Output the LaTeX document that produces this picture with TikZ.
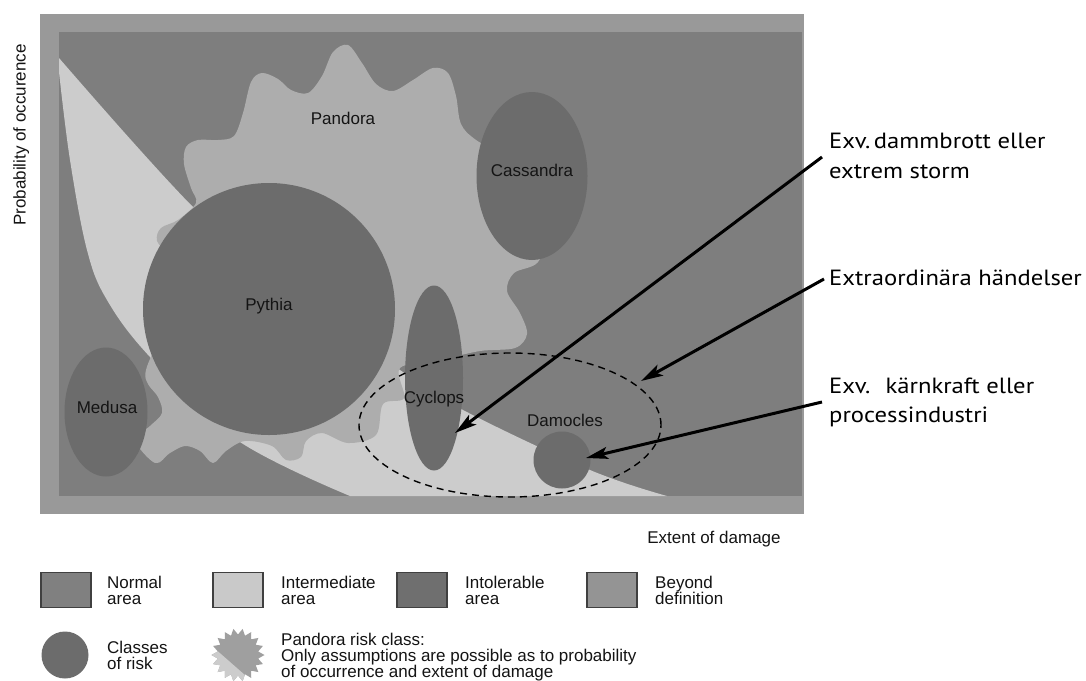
\documentclass[tikz,border=0pt]{standalone}
\usepackage{fontspec}
\setmainfont{Liberation Sans}
\newfontfamily\notefont[FakeStretch=1.12]{PT Sans}
\usetikzlibrary{arrows.meta,shapes.geometric}
\definecolor{framegray}{HTML}{999999}
\definecolor{normalgray}{HTML}{7E7E7E}
\definecolor{lightzone}{HTML}{CCCCCC}
\definecolor{pandoragray}{HTML}{ADADAD}
\definecolor{riskgray}{HTML}{6C6C6C}
\definecolor{legnormal}{HTML}{808080}
\definecolor{leginter}{HTML}{C9C9C9}
\definecolor{legintol}{HTML}{6F6F6F}
\definecolor{legbeyond}{HTML}{949494}
\begin{document}
\begin{tikzpicture}[x=1pt, y=-1pt,
  lbl/.style={font=\fontsize{17}{20}\selectfont, inner sep=0pt, anchor=base, text=black!92},
  leg/.style={font=\fontsize{17}{20}\selectfont, inner sep=0pt, anchor=base west, text=black!92},
  note/.style={font=\notefont\fontsize{22}{26}\selectfont, inner sep=0pt, anchor=base west},
  riskcls/.style={fill=riskgray, inner sep=0pt, outer sep=0pt},
  legbox/.style={draw=black!75, line width=1.3pt, minimum width=50pt, minimum height=35pt, inner sep=0pt},
  callout/.style={line width=3pt, -{Stealth[length=22pt, width=12pt, inset=5pt]}},
  eventring/.style={draw=black, line width=1.4pt, dash pattern=on 7pt off 5pt, ellipse, inner sep=0pt, minimum width=302pt, minimum height=144pt}]
\useasboundingbox (0,0) rectangle (1086,680);
\fill[white] (0,0) rectangle (1086,680);
% frame and areas
\fill[framegray] (40,14) rectangle (804,514);
\fill[normalgray] (59,32) rectangle (802,496);
\fill[lightzone] plot[smooth, tension=0.6] coordinates {(59,58) (193,207) (300,300) (400,370) (463,410) (590,470) (667,496)}
  -- plot[smooth, tension=0.6] coordinates {(350,496) (237,440) (150,357) (107,300) (87,250) (70,160) (59,72)} -- cycle;
% Pandora
\fill[pandoragray] plot[smooth cycle, tension=0.55] coordinates {
 (333,52) (348,45) (362,63) (376,84) (393,91) (413,80) (433,68) (448,73) (456,96) (461,124) (476,140)
 (515,165) (545,230) (538,262) (514,273) (507,291) (520,313) (527,334) (515,348) (480,351)
 (440,360) (400,368) (404,398) (383,404) (376,435) (348,443) (322,433) (306,441) (301,457) (286,460) (272,446)
 (245,441) (226,451) (213,463) (200,451) (185,446) (170,453) (155,463) (135,440) (150,426) (162,413)
 (158,397) (148,384) (146,370) (160,330) (168,262) (157,241) (161,228) (178,220) (196,203) (191,188)
 (184,164) (186,147) (198,140) (218,140) (234,136) (243,113) (251,82) (262,73) (278,79) (291,90) (308,93) (322,76)};
% classes of risk
\node[riskcls, circle, minimum size=252pt] (pythia) at (269,309) {};
\node[riskcls, ellipse, minimum width=111pt, minimum height=168pt] (cassandra) at (532,176) {};
\node[riskcls, ellipse, minimum width=83pt, minimum height=129pt] (medusa) at (106,412) {};
\node[riskcls, ellipse, minimum width=58pt, minimum height=185pt] (cyclops) at (434,378) {};
\node[riskcls, circle, minimum size=57pt] (damocles) at (562,460) {};
% labels
\node[lbl] (pandoralbl) at (343,124) {Pandora};
\node[lbl] (cassandralbl) at (532,176) {Cassandra};
\node[lbl] (pythialbl) at (269,310) {Pythia};
\node[lbl] (medusalbl) at (107,413) {Medusa};
\node[lbl] (cyclopslbl) at (434,403) {Cyclops};
\node[lbl] (damocleslbl) at (565,426) {Damocles};
% extraordinary events
\node[eventring] (extra) at (510,425) {};
% notes
\node[note] (n1a) at (829,148) {Exv.\,dammbrott eller};
\node[note] (n1b) at (829,178) {extrem storm};
\node[note] (n2) at (829,285) {Extraordinära händelser};
\node[note] (n3a) at (829,393) {Exv. \ kärnkraft eller};
\node[note] (n3b) at (829,422) {processindustri};
\coordinate (a1s) at (822,157);
\coordinate (a1e) at (455,433);
\coordinate (a2s) at (824,279);
\coordinate (a2e) at (641,381);
\coordinate (a3s) at (822,402);
\coordinate (a3e) at (586,458);
\draw[callout] (a1s) -- (a1e);
\draw[callout] (a2s) -- (a2e);
\draw[callout] (a3s) -- (a3e);
% axes
\node[lbl, rotate=90] (ylabel) at (25.5,135) {Probability of occurence};
\node[lbl] (xlabel) at (714,543) {Extent of damage};
% legend
\node[legbox, fill=legnormal] (lgnormal) at (66,590) {};
\node[leg] (lgnormal1) at (107,588) {Normal};
\node[leg] (lgnormal2) at (107,604) {area};
\node[legbox, fill=leginter] (lginter) at (238,590) {};
\node[leg] (lginter1) at (281,588) {Intermediate};
\node[leg] (lginter2) at (281,604) {area};
\node[legbox, fill=legintol] (lgintol) at (422,590) {};
\node[leg] (lgintol1) at (465,588) {Intolerable};
\node[leg] (lgintol2) at (465,604) {area};
\node[legbox, fill=legbeyond] (lgbeyond) at (612,590) {};
\node[leg] (lgbeyond1) at (655,588) {Beyond};
\node[leg] (lgbeyond2) at (655,604) {definition};
\node[riskcls, circle, minimum size=47pt] (lgclass) at (65,655) {};
\node[leg] (lgclass1) at (107,653) {Classes};
\node[leg] (lgclass2) at (107,669) {of risk};
\begin{scope}
  \clip plot[domain=0:360, samples=37, variable=\t] ({238+(23.5+3*cos(18*\t))*cos(\t)}, {655+(23.5+3*cos(18*\t))*sin(\t)}) -- cycle;
  \fill[pandoragray!92!black] (205,620) rectangle (272,690);
  \fill[lightzone] (205,640) -- (262,690) -- (205,690) -- cycle;
\end{scope}
\coordinate (lgpandora) at (238,655);
\node[leg] (lgpandora1) at (281,645) {Pandora risk class:};
\node[leg] (lgpandora2) at (281,661) {Only assumptions are possible as to probability};
\node[leg] (lgpandora3) at (281,677) {of occurrence and extent of damage};
\end{tikzpicture}
\end{document}
